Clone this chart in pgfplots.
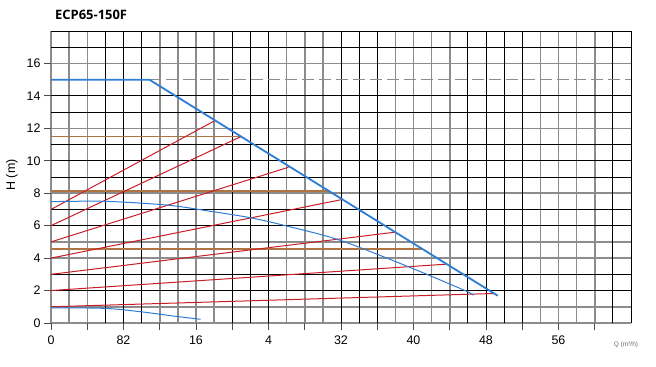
\documentclass[border=0pt]{standalone}
\usepackage{pgfplots}
\pgfplotsset{compat=1.18}
\usepackage{fontspec}
\setmainfont{Liberation Sans}
\newfontfamily\titlefont{Open Sans}
\definecolor{cblue}{RGB}{45,125,210}
\definecolor{cred}{RGB}{200,30,40}
\definecolor{cbrown}{RGB}{176,116,66}
\definecolor{cgrid}{RGB}{140,140,140}
\begin{document}
\begin{tikzpicture}
\begin{axis}[
 scale only axis, width=580bp, height=292bp,
 xmin=0,xmax=64,ymin=0,ymax=18,
 axis line style={draw=none},
 xtick={0,4,...,60}, xticklabels={0,{},82,{},16,{},4,{},32,{},40,{},48,{},56,{}},
 ytick={0,2,...,16}, yticklabels={0,2,4,6,8,10,12,14,16},
 minor xtick={0,2,4,12,14,16,18,26,28,30,38,40,42,44,54,56,58,60},
 minor ytick={0,1,4,5,8,12,16},
 xminorgrids=true, yminorgrids=true,
 minor grid style={cgrid, line width=1.5bp},
 minor tick length=0pt,
 extra x ticks={6,8,10,20,22,24,32,34,36,46,48,50,52,62,64},
 extra y ticks={2,3,6,7,9,10,11,13,14,17,18},
 extra x tick labels={}, extra y tick labels={},
 extra tick style={grid=major, major grid style={black, line width=0.8bp}, major tick length=0pt},
 tick align=outside, major tick length=7bp,
 xtick pos=left, ytick pos=left,
 tick style={draw=black!70, line width=0.8bp},
 tick label style={font=\fontsize{12.5}{14}\selectfont},
 xticklabel style={yshift=-2bp},
 clip=false,
]
\coordinate (O) at (rel axis cs:0,0);
% dashed line at 15
\draw[cgrid, line width=1.3bp, dash pattern=on 12bp off 5bp] (axis cs:10.85,15) -- (axis cs:64,15);
% brown horizontals
\addplot[cbrown, line width=1.5bp, no markers] coordinates {(0,11.5) (21,11.5)};
\addplot[cbrown, line width=1.5bp, no markers] coordinates {(0,8.15) (30.8,8.15)};
\addplot[cbrown, line width=1.5bp, no markers] coordinates {(0,4.56) (41,4.56)};
% red system lines
\addplot[cred, line width=1bp, no markers] coordinates {(0,7) (18,12.45)};
\addplot[cred, line width=1bp, no markers] coordinates {(0,6) (21,11.5)};
\addplot[cred, line width=1bp, no markers] coordinates {(0,5) (26.2,9.6)};
\addplot[cred, line width=1bp, no markers] coordinates {(0,4) (32,7.6)};
\addplot[cred, line width=1bp, no markers] coordinates {(0,3) (38,5.6)};
\addplot[cred, line width=1bp, no markers] coordinates {(0,2) (43.7,3.63)};
\addplot[cred, line width=1bp, no markers] coordinates {(0,1) (48.9,1.82)};
% blue curves
\addplot[cblue, line width=1bp, no markers, smooth] coordinates {(0,7.48) (6,7.5) (12.8,7.27) (17.2,6.92) (22,6.49) (26,5.98) (31.9,5.1) (39.6,3.43) (45.8,1.97) (46.6,1.7)};
\addplot[cblue, line width=1bp, no markers, smooth] coordinates {(0,0.94) (6,0.9) (9.8,0.7) (13.5,0.43) (16.5,0.23)};
\addplot[cblue, line width=1.8bp, no markers] coordinates {(0,15) (10.85,15) (49.3,1.68)};
\end{axis}
\pgfresetboundingbox
\path[use as bounding box] (O) ++(-51bp,-44bp) rectangle ++(656bp,367bp);
\path (O) ++(4bp,308bp) node[anchor=west, inner sep=0pt]{\titlefont\bfseries\fontsize{13}{15}\selectfont ECP65-150F};
\path (O) ++(-39bp,148bp) node[rotate=90, inner sep=0pt]{\fontsize{12.5}{14}\selectfont H (m)};
\path (O) ++(575bp,-22bp) node[inner sep=0pt, text=black!60]{\fontsize{6.5}{7}\selectfont Q (m³/h)};
\end{tikzpicture}
\end{document}
